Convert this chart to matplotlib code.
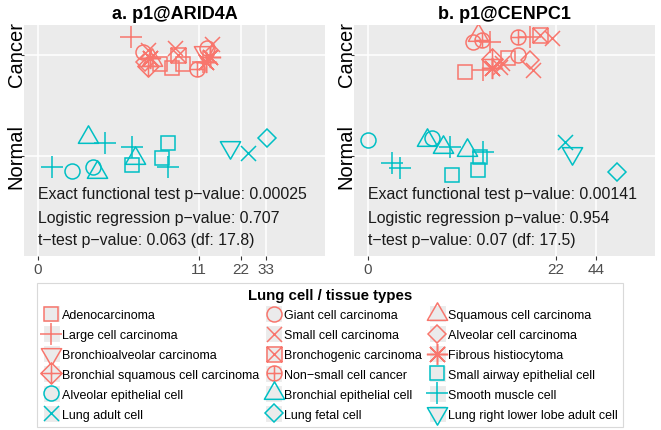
import numpy as np
import matplotlib
matplotlib.use('Agg')
import matplotlib.pyplot as plt
from matplotlib.path import Path
from matplotlib.lines import Line2D
from matplotlib.patches import Rectangle
from matplotlib.legend_handler import HandlerBase

plt.rcParams['font.family'] = ['Liberation Sans', 'DejaVu Sans']

RED = '#F8766D'
CYAN = '#00BFC4'

# cell / tissue types, in legend order (read row by row)
type_codes = ['adeno', 'giant', 'squam', 'large', 'small', 'alvca', 'bronchio', 'bronchog', 'fibrous',
              'bsq', 'nsclc', 'saec', 'alvep', 'bronep', 'smooth', 'adult', 'fetal', 'rll']
type_labels = ['Adenocarcinoma', 'Giant cell carcinoma', 'Squamous cell carcinoma',
               'Large cell carcinoma', 'Small cell carcinoma', 'Alveolar cell carcinoma',
               'Bronchioalveolar carcinoma', 'Bronchogenic carcinoma', 'Fibrous histiocytoma',
               'Bronchial squamous cell carcinoma', 'Non−small cell cancer', 'Small airway epithelial cell',
               'Alveolar epithelial cell', 'Bronchial epithelial cell', 'Smooth muscle cell',
               'Lung adult cell', 'Lung fetal cell', 'Lung right lower lobe adult cell']
type_group = ['Cancer'] * 11 + ['Normal'] * 7
type_shape = list(range(11)) + list(range(7))

levels = ['Normal', 'Cancer']

# panel a: p1@ARID4A
a_type = ['large', 'giant', 'small', 'fibrous', 'bsq', 'squam', 'alvca', 'small', 'bronchog', 'adeno',
          'adeno', 'nsclc', 'giant', 'small', 'fibrous', 'fibrous', 'bronchio', 'large', 'adeno',
          'smooth', 'alvep', 'alvep', 'bronep', 'bronep', 'smooth', 'smooth', 'saec', 'bronep', 'saec',
          'saec', 'smooth', 'rll', 'adult', 'fetal']
a_x = [3.20, 4.06, 4.46, 4.63, 4.46, 4.81, 4.21, 7.28, 7.68, 6.91,
       8.37, 10.63, 12.57, 13.66, 12.36, 13.22, 11.96, 11.76, 5.57,
       0.24, 0.69, 1.34, 1.49, 1.16, 1.81, 3.27, 3.27, 3.47, 5.78,
       6.44, 6.44, 18.4, 24.6, 33.3]
a_y = [2.178, 2.030, 2.050, 1.970, 1.891, 1.950, 1.931, 2.069, 2.000, 1.871,
       1.911, 1.861, 2.069, 2.109, 1.931, 1.980, 2.030, 1.931, 1.911,
       0.891, 0.851, 0.891, 0.842, 1.188, 1.129, 1.089, 0.911, 0.980, 0.980,
       1.129, 0.891, 1.089, 1.030, 1.178]
a_ticks = [0, 11, 22, 33]
a_notes = ['Exact functional test p−value: 0.00025',
           'Logistic regression p−value: 0.707',
           't−test p−value: 0.063 (df: 17.8)']

# panel b: p1@CENPC1
b_type = ['squam', 'giant', 'nsclc', 'large', 'nsclc', 'large', 'bronchog', 'small', 'adeno',
          'large', 'fibrous', 'bsq', 'small', 'adeno', 'giant', 'alvca', 'small', 'small',
          'alvep', 'smooth', 'smooth', 'alvep', 'bronep', 'bronep', 'smooth', 'saec', 'bronep',
          'saec', 'saec', 'smooth', 'adult', 'rll', 'fetal']
b_x = [5.26, 4.76, 5.69, 6.65, 11.2, 13.9, 16.6, 20.5, 4.04,
       5.80, 6.91, 6.91, 8.34, 9.32, 11.2, 13.9, 14.66, 8.03,
       0.0, 0.49, 0.71, 1.91, 1.67, 2.49, 2.93, 3.06, 4.21,
       5.26, 5.47, 5.80, 25.7, 29.0, 62.5]
b_y = [2.198, 2.129, 2.149, 2.129, 2.178, 2.178, 2.198, 2.168, 1.832,
       1.851, 1.871, 1.960, 1.921, 1.970, 2.000, 1.950, 1.851, 1.881,
       1.158, 0.931, 0.881, 1.178, 1.158, 1.089, 1.089, 0.812, 1.059,
       0.861, 0.990, 1.040, 1.139, 1.030, 0.842]
b_ticks = [0, 22, 44]
b_notes = ['Exact functional test p−value: 0.00141',
           'Logistic regression p−value: 0.954',
           't−test p−value: 0.07 (df: 17.5)']

# ggplot-like open point shapes 0..10
M, L, C = Path.MOVETO, Path.LINETO, Path.CLOSEPOLY
tri_up = Path([(0, 1), (-0.866, -0.5), (0.866, -0.5), (0, 1)], [M, L, L, C])
tri_dn = Path([(0, -1), (-0.866, 0.5), (0.866, 0.5), (0, -1)], [M, L, L, C])
sq_x = Path([(-1, -1), (1, -1), (1, 1), (-1, 1), (-1, -1), (-1, -1), (1, 1), (-1, 1), (1, -1)],
            [M, L, L, L, C, M, L, M, L])
dia_plus = Path([(0, 1), (1, 0), (0, -1), (-1, 0), (0, 1), (-1, 0), (1, 0), (0, -1), (0, 1)],
                [M, L, L, L, C, M, L, M, L])
circ_plus = Path.make_compound_path(Path.unit_circle(),
                                    Path([(-1, 0), (1, 0), (0, -1), (0, 1)], [M, L, M, L]))
R = 7.5  # px
shape_defs = {
    0: ('s', 2 * R * 0.886),
    1: ('o', 2 * R),
    2: (tri_up, 2 * R * 1.555),
    3: ('+', 2 * R * 1.414),
    4: ('x', 2 * R),
    5: ('D', 2 * R * 1.253 / 1.414),
    6: (tri_dn, 2 * R * 1.555),
    7: (sq_x, 2 * R),
    8: ((8, 2, 0), 2 * R * 1.414),
    9: (dia_plus, 2 * R * 1.414),
    10: (circ_plus, 2 * R),
}
MEW = 1.1


def style_for(code):
    i = type_codes.index(code)
    marker, size = shape_defs[type_shape[i]]
    color = RED if type_group[i] == 'Cancer' else CYAN
    return dict(marker=marker, ms=size * 0.72, mfc='none', mec=color, mew=MEW, ls='none')


def fwd(x):
    return np.log10(np.maximum(np.asarray(x, dtype=float) + 1, 1e-12))


def inv(y):
    return 10 ** np.asarray(y, dtype=float) - 1


def draw_panel(ax, codes, xs, ys, title, ticks, xlim, notes):
    ax.set_facecolor('#EBEBEB')
    ax.set_xscale('function', functions=(fwd, inv))
    for code, x, y in zip(codes, xs, ys):
        ax.plot([x], [y], **style_for(code))
    ax.set_xlim(*xlim)
    ax.set_ylim(0.01, 2.297)
    ax.set_xticks(ticks)
    ax.set_xticklabels([str(t) for t in ticks])
    ax.set_yticks([1, 2])
    ax.set_yticklabels(levels, rotation=90, va='center', fontsize=14.5, color='black')
    ax.minorticks_off()
    ax.grid(True, color='white', lw=1.1)
    ax.set_axisbelow(True)
    for s in ax.spines.values():
        s.set_visible(False)
    ax.tick_params(axis='x', length=2.8, width=0.8, color='#333333', pad=2, labelsize=11, labelcolor='#4D4D4D')
    ax.tick_params(axis='y', length=2.2, width=0.8, color='#333333', pad=-3.5)
    ax.set_title(title, fontsize=13, fontweight='bold', pad=4)
    for y, txt in zip([0.614, 0.386, 0.168], notes):
        ax.text(0, y, txt, ha='left', va='center', fontsize=11.4, color='#1A1A1A')


class KeyHandler(HandlerBase):
    def create_artists(self, legend, orig_handle, xdescent, ydescent, width, height, fontsize, trans):
        cx = width / 2 - xdescent
        cy = (height - ydescent) / 2
        k = 17 * 0.72
        bg = Rectangle((cx - k / 2, cy - k / 2), k, k, facecolor='#EBEBEB', edgecolor='white',
                       lw=0.8, transform=trans)
        mk = Line2D([cx], [cy])
        mk.update_from(orig_handle)
        mk.set_transform(trans)
        return [bg, mk]


fig = plt.figure(figsize=(6.61, 4.30), dpi=100)
W, H = 661, 430
ax_a = fig.add_axes([24 / W, (H - 256) / H, 301 / W, 231 / H])
ax_b = fig.add_axes([354 / W, (H - 256) / H, 301 / W, 231 / H])

draw_panel(ax_a, a_type, a_x, a_y, 'a. p1@ARID4A', a_ticks, (-0.195, 83), a_notes)
draw_panel(ax_b, b_type, b_x, b_y, 'b. p1@CENPC1', b_ticks, (-0.2075, 118.7), b_notes)

# legend, filled row by row like ggplot
handles = [Line2D([], [], **style_for(c)) for c in type_codes]
order = [r * 3 + c for c in range(3) for r in range(6)]
leg = fig.legend([handles[i] for i in order], [type_labels[i] for i in order],
                 ncol=3, loc='upper left', mode='expand',
                 bbox_to_anchor=(37 / W, 1 - 423 / H, (623 - 37) / W, 140 / H),
                 fontsize=9, title='Lung cell / tissue types',
                 title_fontproperties={'weight': 'bold', 'size': 10.8},
                 handlelength=1.36, handleheight=1.36, handletextpad=0.15,
                 labelspacing=0.45, borderpad=0.45, borderaxespad=0,
                 fancybox=False, framealpha=1, edgecolor='#D9D9D9',
                 handler_map={Line2D: KeyHandler()})
leg.get_frame().set_linewidth(0.8)

fig.savefig('out.png', dpi=100)
